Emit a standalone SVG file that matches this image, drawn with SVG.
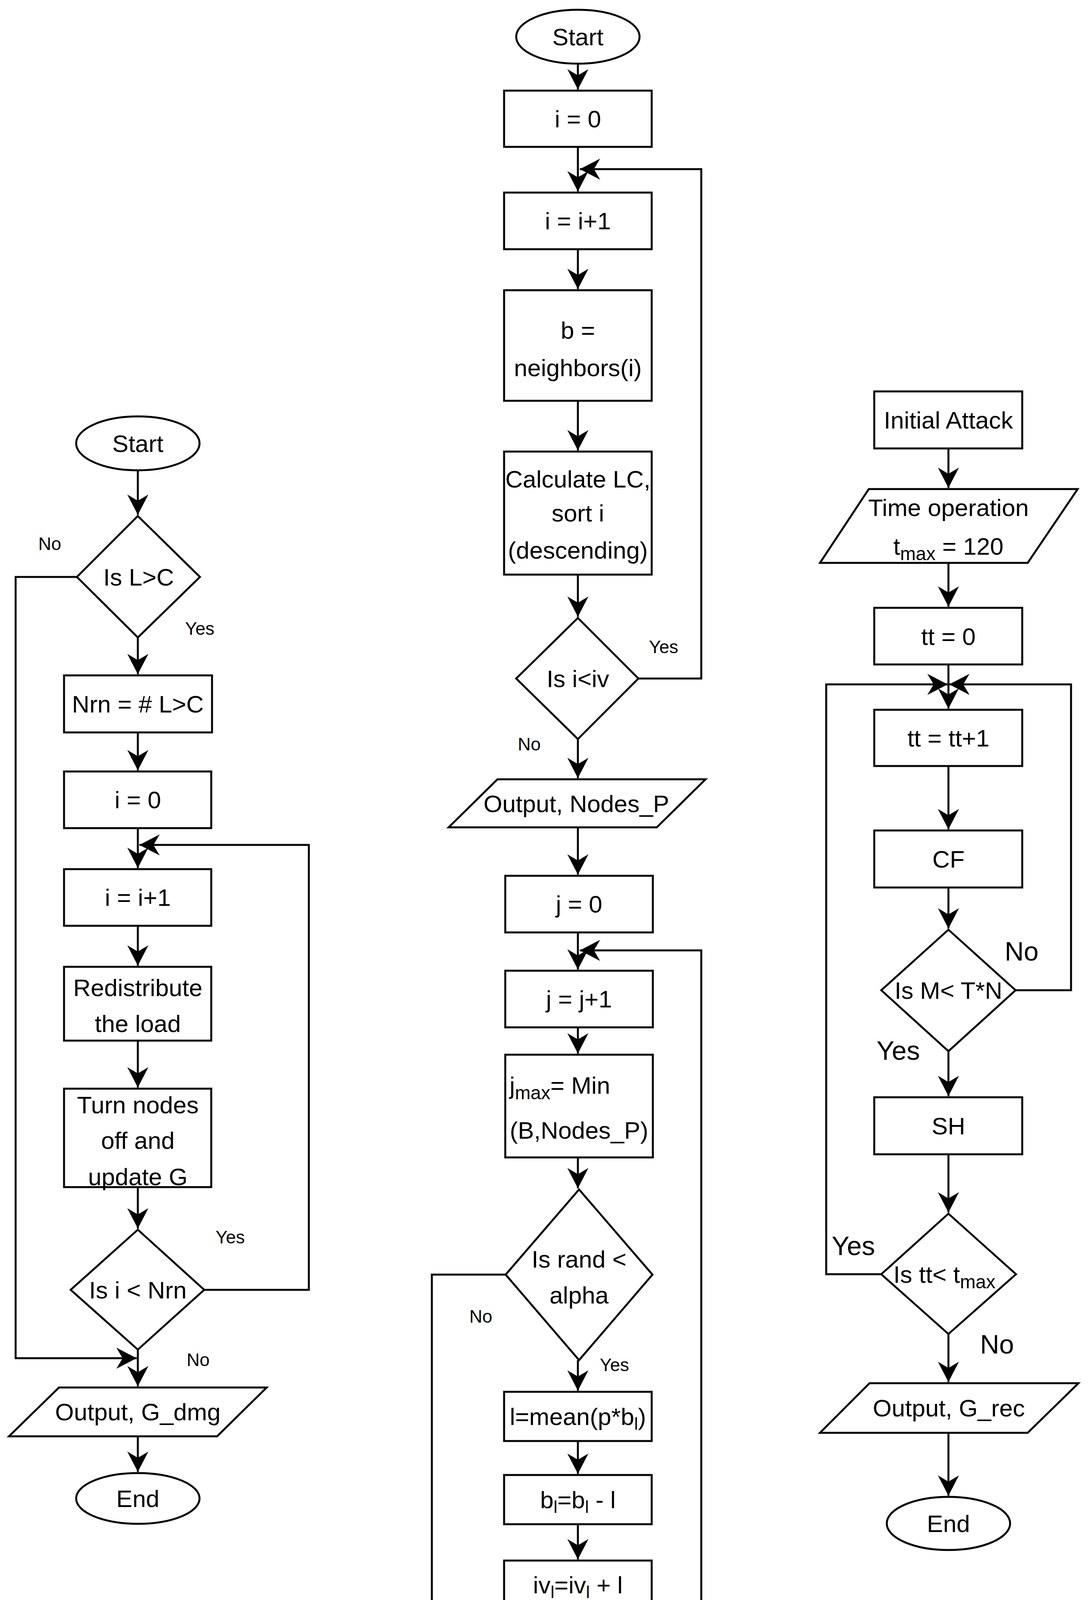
<svg xmlns="http://www.w3.org/2000/svg" width="2789" height="5154" viewBox="0 0 2789 5154">
<style>
.s{fill:#fff;stroke:#000;stroke-width:5}
.c{fill:none;stroke:#000;stroke-width:5}
.t{font-family:"Liberation Sans",Arial,sans-serif;font-size:62px;fill:#000;text-anchor:middle}
.l{font-family:"Liberation Sans",Arial,sans-serif;font-size:46px;fill:#000}
.L{font-family:"Liberation Sans",Arial,sans-serif;font-size:68px;fill:#000}
.cap{font-family:"Liberation Serif","Times New Roman",serif;font-size:64px;fill:#000;text-anchor:middle}
</style>
<defs>
<marker id="ah" markerUnits="userSpaceOnUse" viewBox="-60 -30 62 60" refX="0" refY="0" markerWidth="62" markerHeight="60" orient="auto">
<path d="M0,0 L-52,-27 L-36,0 L-52,27 Z" fill="#000"/>
</marker>
</defs>
<rect width="2789" height="5154" fill="#fff"/>
<g id="connectors">
<!-- panel a -->
<path class="c" d="M353,1204 V1318" marker-end="url(#ah)"/>
<path class="c" d="M353,1632 V1726" marker-end="url(#ah)"/>
<path class="c" d="M353,1875 V1972" marker-end="url(#ah)"/>
<path class="c" d="M353,2120 V2222" marker-end="url(#ah)"/>
<path class="c" d="M353,2370 V2472" marker-end="url(#ah)"/>
<path class="c" d="M353,2664 V2784" marker-end="url(#ah)"/>
<path class="c" d="M353,3039 V3145" marker-end="url(#ah)"/>
<path class="c" d="M353,3455 V3549" marker-end="url(#ah)"/>
<path class="c" d="M353,3677 V3768" marker-end="url(#ah)"/>
<path class="c" d="M523,3302 H791 V2163 H357" marker-end="url(#ah)"/>
<path class="c" d="M197,1477 H40 V3477 H350" marker-end="url(#ah)"/>
<!-- panel b -->
<path class="c" d="M1480,163 V229" marker-end="url(#ah)"/>
<path class="c" d="M1480,376 V490" marker-end="url(#ah)"/>
<path class="c" d="M1480,638 V740" marker-end="url(#ah)"/>
<path class="c" d="M1480,1026 V1153" marker-end="url(#ah)"/>
<path class="c" d="M1480,1471 V1579" marker-end="url(#ah)"/>
<path class="c" d="M1480,1892 V1992" marker-end="url(#ah)"/>
<path class="c" d="M1480,2118 V2239" marker-end="url(#ah)"/>
<path class="c" d="M1480,2387 V2482" marker-end="url(#ah)"/>
<path class="c" d="M1480,2630 V2697" marker-end="url(#ah)"/>
<path class="c" d="M1480,2963 V3042" marker-end="url(#ah)"/>
<path class="c" d="M1480,3482 V3560" marker-end="url(#ah)"/>
<path class="c" d="M1480,3689 V3773" marker-end="url(#ah)"/>
<path class="c" d="M1480,3902 V3992" marker-end="url(#ah)"/>
<path class="c" d="M1480,4120 V4181" marker-end="url(#ah)"/>
<path class="c" d="M1480,4493 V4574" marker-end="url(#ah)"/>
<path class="c" d="M1480,4704 V4806" marker-end="url(#ah)"/>
<path class="c" d="M1635,1737 H1796 V433 H1485" marker-end="url(#ah)"/>
<path class="c" d="M1650,4339 H1796 V2433 H1485" marker-end="url(#ah)"/>
<path class="c" d="M1295,3263 H1106 V4619 H1233" marker-end="url(#ah)"/>
<!-- panel c -->
<path class="c" d="M2429,1148 V1249" marker-end="url(#ah)"/>
<path class="c" d="M2429,1441 V1553" marker-end="url(#ah)"/>
<path class="c" d="M2429,1701 V1814" marker-end="url(#ah)"/>
<path class="c" d="M2429,1961 V2123" marker-end="url(#ah)"/>
<path class="c" d="M2429,2272 V2377" marker-end="url(#ah)"/>
<path class="c" d="M2429,2691 V2806" marker-end="url(#ah)"/>
<path class="c" d="M2429,2955 V3104" marker-end="url(#ah)"/>
<path class="c" d="M2429,3415 V3538" marker-end="url(#ah)"/>
<path class="c" d="M2429,3668 V3829" marker-end="url(#ah)"/>
<path class="c" d="M2257,3262 H2116 V1752 H2427" marker-end="url(#ah)"/>
<path class="c" d="M2601,2535 H2743 V1752 H2431" marker-end="url(#ah)"/>
</g>
<!-- panel a nodes -->
<g id="a_start"><ellipse class="s" cx="353" cy="1135" rx="158" ry="69"/><text class="t" x="353" y="1157">Start</text></g>
<g id="a_d1"><polygon class="s" points="353,1321 512,1477 353,1632 197,1477"/><text class="t" x="355" y="1499">Is L&gt;C</text></g>
<g id="a_nrn"><rect class="s" x="164" y="1729" width="379" height="146"/><text class="t" x="353" y="1824">Nrn = # L&gt;C</text></g>
<g id="a_i0"><rect class="s" x="164" y="1975" width="377" height="145"/><text class="t" x="353" y="2069">i = 0</text></g>
<g id="a_i1"><rect class="s" x="164" y="2225" width="377" height="145"/><text class="t" x="353" y="2319">i = i+1</text></g>
<g id="a_redis"><rect class="s" x="164" y="2475" width="377" height="189"/><text class="t" x="353" y="2550">Redistribute</text><text class="t" x="353" y="2642">the load</text></g>
<g id="a_turn"><rect class="s" x="164" y="2787" width="377" height="252"/><text class="t" x="353" y="2850">Turn nodes</text><text class="t" x="353" y="2941">off and</text><text class="t" x="353" y="3034">update G</text></g>
<g id="a_d2"><polygon class="s" points="353,3148 523,3302 353,3455 181,3302"/><text class="t" x="353" y="3324">Is i &lt; Nrn</text></g>
<g id="a_out"><polygon class="s" points="151,3552 683,3552 556,3677 23,3677"/><text class="t" x="353" y="3636">Output, G_dmg</text></g>
<g id="a_end"><ellipse class="s" cx="353" cy="3836" rx="158" ry="65"/><text class="t" x="353" y="3858">End</text></g>
<g id="a_labels"><text class="l" x="98" y="1408">No</text><text class="l" x="474" y="1625">Yes</text><text class="l" x="552" y="3183">Yes</text><text class="l" x="478" y="3497">No</text></g>
<!-- panel b nodes -->
<g id="b_start"><ellipse class="s" cx="1480" cy="94" rx="158" ry="69"/><text class="t" x="1480" y="116">Start</text></g>
<g id="b_i0"><rect class="s" x="1291" y="232" width="378" height="144"/><text class="t" x="1480" y="326">i = 0</text></g>
<g id="b_i1"><rect class="s" x="1291" y="493" width="378" height="145"/><text class="t" x="1480" y="587">i = i+1</text></g>
<g id="b_nb"><rect class="s" x="1291" y="743" width="378" height="283"/><text class="t" x="1480" y="867">b =</text><text class="t" x="1480" y="963">neighbors(i)</text></g>
<g id="b_calc"><rect class="s" x="1291" y="1156" width="378" height="315"/><text class="t" x="1480" y="1248">Calculate LC,</text><text class="t" x="1480" y="1335">sort i</text><text class="t" x="1480" y="1430">(descending)</text></g>
<g id="b_d1"><polygon class="s" points="1480,1582 1635,1737 1480,1892 1322,1737"/><text class="t" x="1480" y="1759">Is i&lt;iv</text></g>
<g id="b_outp"><polygon class="s" points="1274,1995 1807,1995 1682,2118 1149,2118"/><text class="t" x="1476" y="2079">Output, Nodes_P</text></g>
<g id="b_j0"><rect class="s" x="1294" y="2242" width="378" height="145"/><text class="t" x="1483" y="2336">j = 0</text></g>
<g id="b_j1"><rect class="s" x="1294" y="2485" width="378" height="145"/><text class="t" x="1483" y="2579">j = j+1</text></g>
<g id="b_jmax"><rect class="s" x="1294" y="2700" width="378" height="263"/><text class="t" x="1305" y="2800" style="text-anchor:start">j<tspan font-size="48" dy="14">max</tspan><tspan dy="-14">= Min</tspan></text><text class="t" x="1483" y="2915">(B,Nodes_P)</text></g>
<g id="b_d2"><polygon class="s" points="1483,3045 1671,3263 1483,3482 1295,3263"/><text class="t" x="1483" y="3245">Is rand &lt;</text><text class="t" x="1483" y="3337">alpha</text></g>
<g id="b_l"><rect class="s" x="1291" y="3563" width="378" height="126"/><text class="t" x="1480" y="3648">l=mean(p*b<tspan font-size="44" dy="12">l</tspan><tspan dy="-12">)</tspan></text></g>
<g id="b_bl"><rect class="s" x="1291" y="3776" width="378" height="126"/><text class="t" x="1480" y="3861">b<tspan font-size="44" dy="12">l</tspan><tspan dy="-12">=b</tspan><tspan font-size="44" dy="12">l</tspan><tspan dy="-12"> - l</tspan></text></g>
<g id="b_iv"><rect class="s" x="1291" y="3995" width="378" height="125"/><text class="t" x="1480" y="4079">iv<tspan font-size="44" dy="12">l</tspan><tspan dy="-12">=iv</tspan><tspan font-size="44" dy="12">l</tspan><tspan dy="-12"> + l</tspan></text></g>
<g id="b_d3"><polygon class="s" points="1480,4184 1650,4339 1480,4493 1307,4339"/><text class="t" x="1340" y="4359" style="text-anchor:start">Is j &lt; j<tspan font-size="48" dy="14">max</tspan></text></g>
<g id="b_out"><polygon class="s" points="1277,4577 1808,4577 1684,4704 1151,4704"/><text class="t" x="1478" y="4662">Output, G_rec</text></g>
<g id="b_end"><ellipse class="s" cx="1480" cy="4878" rx="158" ry="69"/><text class="t" x="1480" y="4900">End</text></g>
<g id="b_labels"><text class="l" x="1662" y="1672">Yes</text><text class="l" x="1326" y="1921">No</text><text class="l" x="1202" y="3386">No</text><text class="l" x="1536" y="3510">Yes</text></g>
<!-- panel c nodes -->
<g id="c_init"><rect class="s" x="2239" y="1002" width="379" height="146"/><text class="t" x="2429" y="1097">Initial Attack</text></g>
<g id="c_time"><polygon class="s" points="2225,1252 2760,1252 2632,1441 2100,1441"/><text class="t" x="2429" y="1321">Time operation</text><text class="t" x="2429" y="1420">t<tspan font-size="48" dy="14">max</tspan><tspan dy="-14"> = 120</tspan></text></g>
<g id="c_tt0"><rect class="s" x="2239" y="1556" width="379" height="145"/><text class="t" x="2429" y="1651">tt = 0</text></g>
<g id="c_tt1"><rect class="s" x="2239" y="1817" width="379" height="144"/><text class="t" x="2429" y="1911">tt = tt+1</text></g>
<g id="c_cf"><rect class="s" x="2239" y="2126" width="379" height="146"/><text class="t" x="2429" y="2221">CF</text></g>
<g id="c_d1"><polygon class="s" points="2429,2380 2601,2535 2429,2691 2257,2535"/><text class="t" x="2429" y="2557">Is M&lt; T*N</text></g>
<g id="c_sh"><rect class="s" x="2239" y="2809" width="379" height="146"/><text class="t" x="2429" y="2904">SH</text></g>
<g id="c_d2"><polygon class="s" points="2429,3107 2602,3262 2429,3415 2257,3262"/><text class="t" x="2288" y="3284" style="text-anchor:start">Is tt&lt; t<tspan font-size="48" dy="14">max</tspan></text></g>
<g id="c_out"><polygon class="s" points="2227,3541 2762,3541 2632,3668 2100,3668"/><text class="t" x="2430" y="3626">Output, G_rec</text></g>
<g id="c_end"><ellipse class="s" cx="2429" cy="3900" rx="158" ry="68"/><text class="t" x="2429" y="3922">End</text></g>
<g id="c_labels"><text class="L" x="2573" y="2459">No</text><text class="L" x="2245" y="2713">Yes</text><text class="L" x="2130" y="3213">Yes</text><text class="L" x="2510" y="3465">No</text></g>
<!-- captions -->
<text class="cap" x="391" y="5128">(<tspan font-weight="bold">a</tspan>)</text>
<text class="cap" x="1462" y="5128">(<tspan font-weight="bold">b</tspan>)</text>
<text class="cap" x="2442" y="5128">(<tspan font-weight="bold">c</tspan>)</text>
</svg>
